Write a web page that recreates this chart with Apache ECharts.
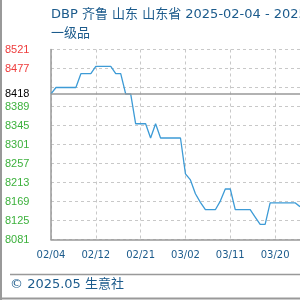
<!DOCTYPE html>
<html>
<head>
<meta charset="utf-8">
<script src="https://cdn.jsdelivr.net/npm/echarts@6/dist/echarts.min.js"></script>
<style>
    html, body { margin: 0; padding: 0; background: #fff; }
    #main { width: 300px; height: 300px; }
</style>
</head>
<body>
<div id="main"></div>
<script>
    // 日期（类目轴）
    var dates = ['02/04', '02/05', '02/06', '02/07', '02/08', '02/09', '02/10', '02/11', '02/11',
        '02/12', '02/13', '02/14', '02/15', '02/16', '02/17', '02/18', '02/19', '02/20',
        '02/21', '02/22', '02/23', '02/24', '02/25', '02/26', '02/27', '02/28', '03/01',
        '03/02', '03/03', '03/04', '03/05', '03/06', '03/07', '03/08', '03/09', '03/10',
        '03/11', '03/12', '03/13', '03/14', '03/15', '03/16', '03/17', '03/18', '03/19',
        '03/20', '03/21', '03/22', '03/23', '03/24', '03/25'];

    // 价格
    var prices = [8418, 8433, 8433, 8433, 8433, 8433, 8465, 8465, 8465,
        8482, 8482, 8482, 8482, 8465, 8465, 8418, 8418, 8349,
        8349, 8349, 8316, 8349, 8316, 8316, 8316, 8316, 8316,
        8233, 8219, 8187, 8167, 8150, 8150, 8150, 8170, 8198,
        8198, 8150, 8150, 8150, 8150, 8133, 8116, 8116, 8166,
        8166, 8166, 8166, 8166, 8166, 8157];

    // 纵轴刻度
    var yLabels = [8081, 8125, 8169, 8213, 8257, 8301, 8345, 8389, 8418, 8477, 8521];
    var baseValue = 8418;

    var blue = '#1c5b8c';
    var font = '"DejaVu Sans", "Noto Sans CJK SC", sans-serif';

    var myChart = echarts.init(document.getElementById('main'));

    var option = {
        animation: false,
        grid: { left: 51, top: 49.5, width: 255.6, height: 190 },
        xAxis: {
            type: 'category',
            boundaryGap: false,
            data: dates,
            axisLine: { lineStyle: { color: '#999', width: 1.5 } },
            axisTick: { show: false },
            axisLabel: { interval: 8, fontSize: 10, fontFamily: font, color: blue, margin: 11 },
            splitLine: { show: true, interval: 8, lineStyle: { color: '#c8c8c8', type: [3, 3] } }
        },
        yAxis: {
            type: 'value',
            min: 8081,
            max: 8521,
            interval: 44,
            axisLine: { show: true, lineStyle: { color: '#999', width: 1.5 } },
            axisTick: { show: false },
            axisLabel: {
                customValues: yLabels,
                align: 'left',
                margin: 46,
                fontSize: 11,
                fontFamily: '"Liberation Sans", Arial, sans-serif',
                formatter: function (v) { return String(Math.round(v)); },
                color: function (v) {
                    v = Number(v);
                    if (v > baseValue) return '#ee3b3b';
                    if (v < baseValue) return '#3cb13c';
                    return '#000';
                }
            },
            splitLine: { lineStyle: { color: '#c8c8c8', type: [3, 3] } }
        },
        series: [{
            type: 'line',
            data: prices,
            showSymbol: false,
            lineStyle: { color: '#3d9bd6', width: 1.3 },
            markLine: {
                silent: true,
                symbol: 'none',
                label: { show: false },
                lineStyle: { type: 'solid', color: '#999', width: 1.5 },
                data: [{ yAxis: baseValue }]
            }
        }],
        graphic: [
            { type: 'text', left: 51, top: 8, style: { text: 'DBP 齐鲁 山东 山东省 2025-02-04 - 2025-05-04', fill: blue, font: '13px ' + font } },
            { type: 'text', left: 51, top: 27, style: { text: '一级品', fill: blue, font: '13px ' + font } },
            { type: 'text', left: 10, top: 278, style: { text: '© 2025.05 生意社', fill: blue, font: '13px ' + font } },
            { type: 'line', shape: { x1: 10, y1: 274.5, x2: 300, y2: 274.5 }, style: { stroke: '#999', lineWidth: 1.5 } },
            { type: 'line', shape: { x1: 1, y1: 0, x2: 1, y2: 300 }, style: { stroke: '#999', lineWidth: 2 } },
            { type: 'line', shape: { x1: 0, y1: 298.5, x2: 300, y2: 298.5 }, style: { stroke: '#999', lineWidth: 2 } }
        ]
    };

    myChart.setOption(option);
</script>
</body>
</html>
